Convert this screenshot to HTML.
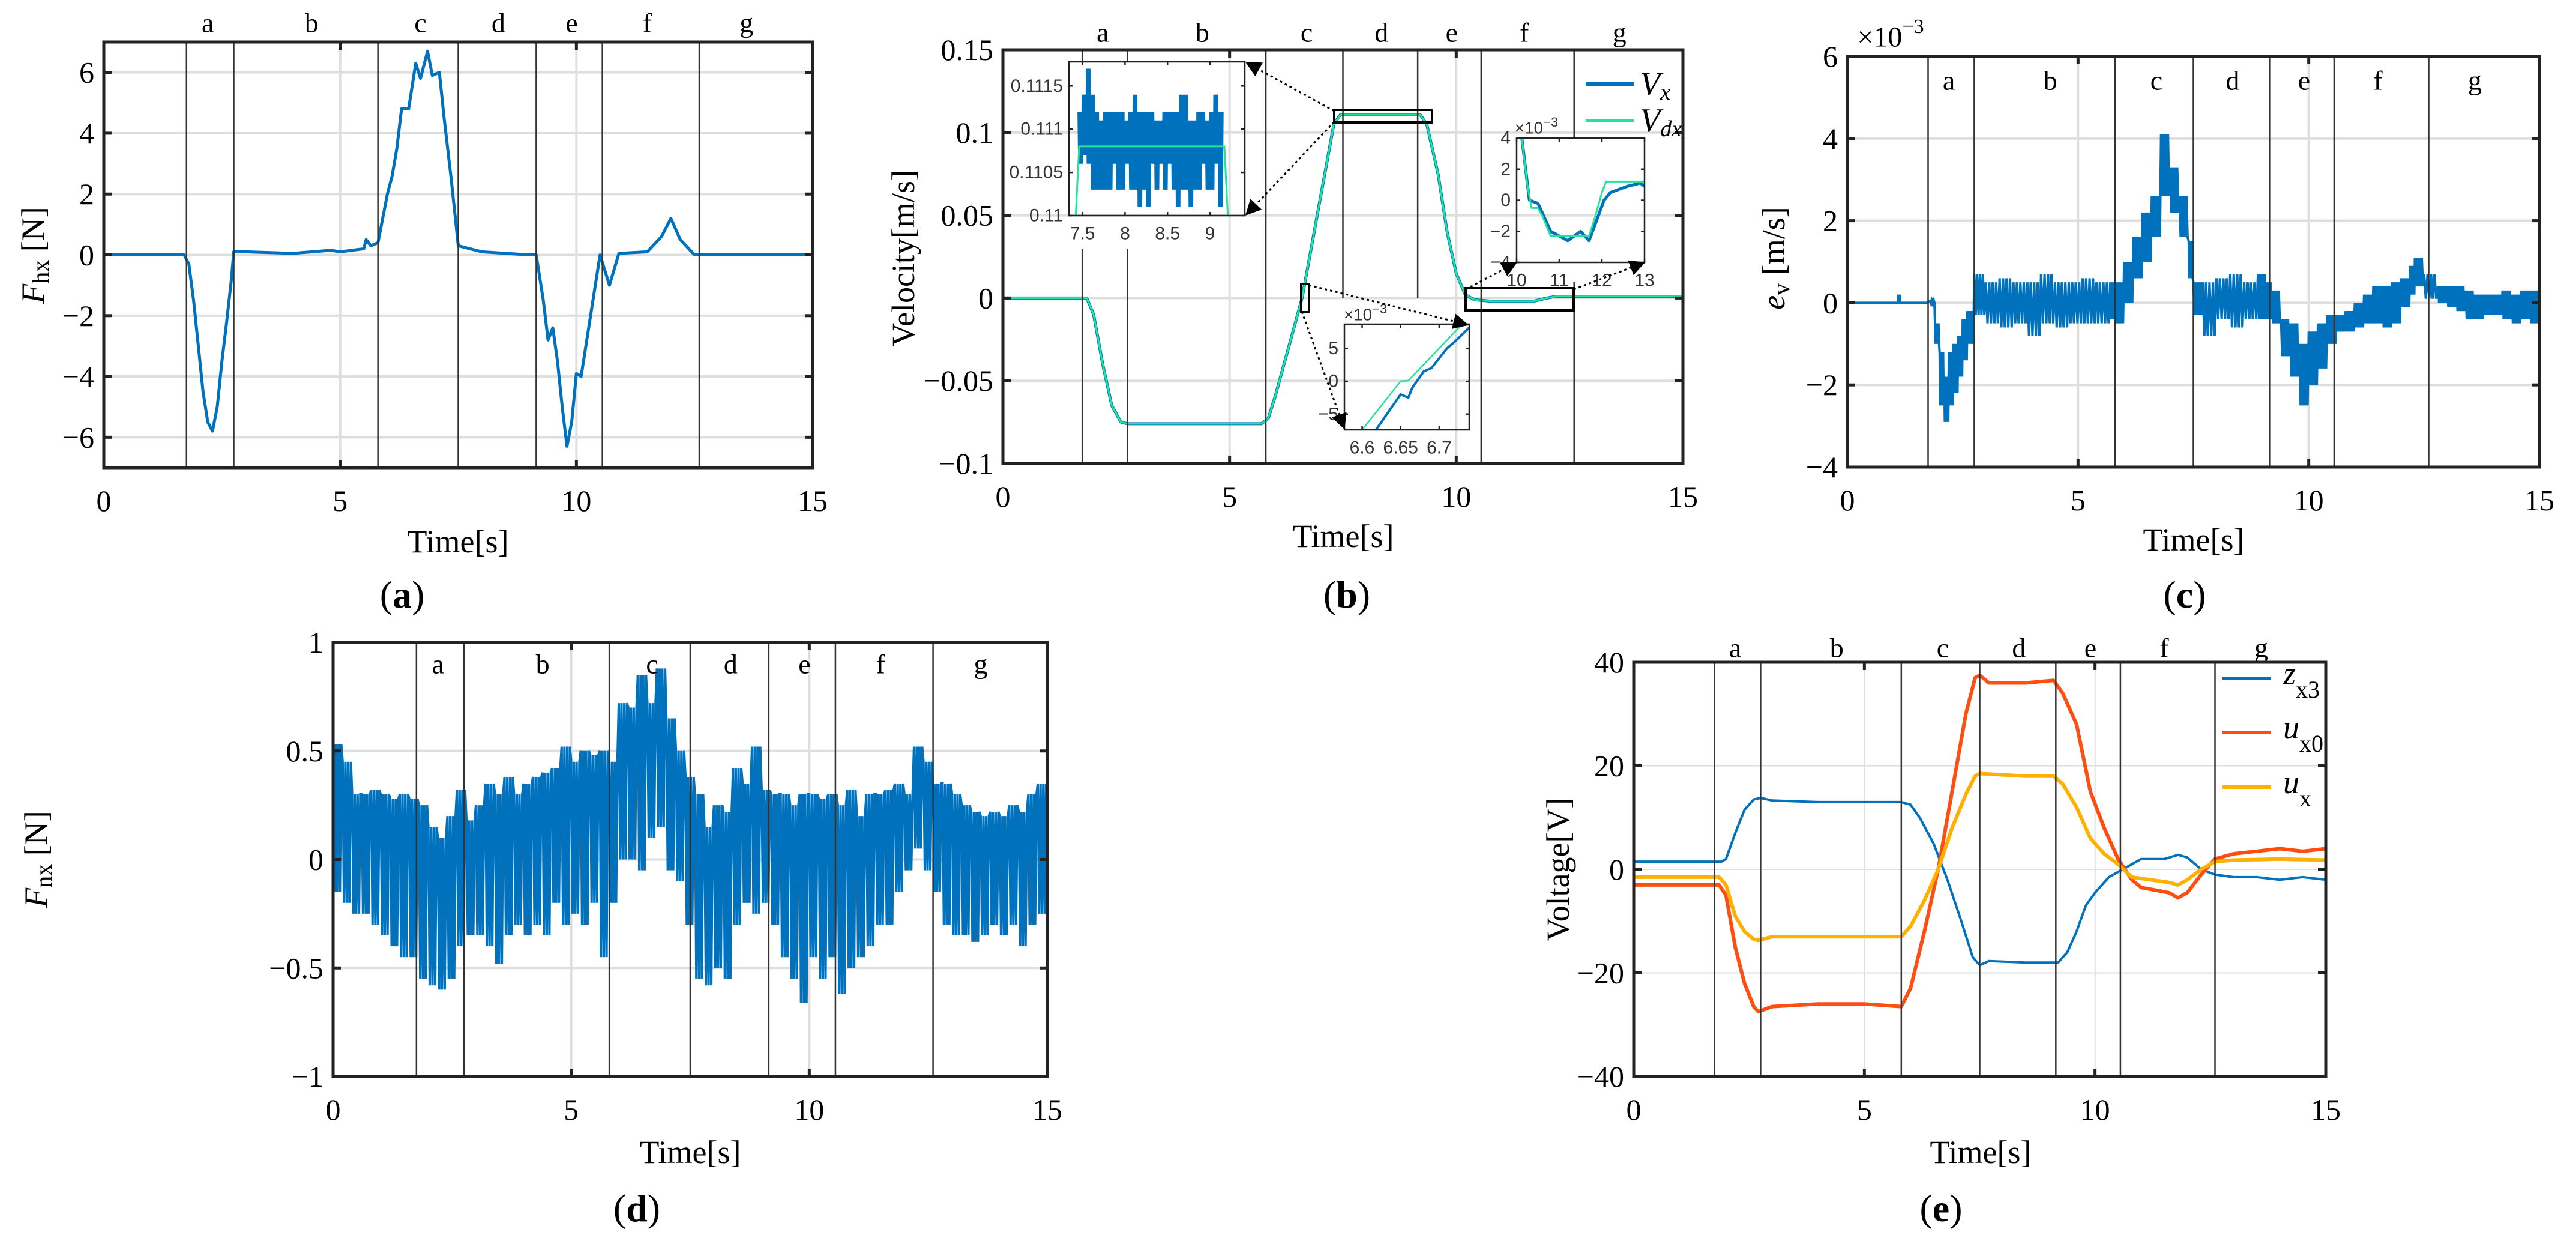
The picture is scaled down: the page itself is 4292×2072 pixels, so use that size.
<!DOCTYPE html>
<html><head><meta charset="utf-8"><style>
html,body{margin:0;padding:0;background:#fff;}
svg{display:block;}
text{font-family:"Liberation Serif",serif;fill:#000;}
.sans{font-family:"Liberation Sans",sans-serif;fill:#333;}
</style></head>
<body>
<svg id="fig" xmlns="http://www.w3.org/2000/svg" width="4292" height="2072" viewBox="0 0 4292 2072">
<defs>
<marker id="arr" markerWidth="10" markerHeight="10" refX="9" refY="5" orient="auto" markerUnits="userSpaceOnUse" viewBox="0 0 10 10" style="overflow:visible"><path d="M0,0 L10,5 L0,10 z" transform="scale(2.6) translate(-6,-3)" fill="#000"/></marker>
</defs>
</svg>
<script>
// ---------------- DATA ----------------
const phaseT = [1.75, 2.75, 5.8, 7.5, 9.15, 10.55, 12.6];
const phaseNames = ['a','b','c','d','e','f','g'];
const phaseLabelT = [2.2, 4.4, 6.7, 8.35, 9.9, 11.5, 13.6];

// (a) F_hx
const fhxT = [0,1.7,1.8,1.9,2.0,2.1,2.2,2.3,2.4,2.5,2.6,2.7,2.75,3,4,4.8,5,5.5,5.55,5.65,5.8,6.0,6.1,6.2,6.3,6.45,6.6,6.7,6.85,6.95,7.1,7.2,7.35,7.5,8,9.0,9.15,9.3,9.4,9.5,9.6,9.7,9.8,9.9,10.0,10.1,10.2,10.35,10.5,10.7,10.9,11.5,11.8,12.0,12.2,12.5,15];
const fhxV = [0,0,-0.3,-1.5,-3,-4.5,-5.5,-5.8,-5,-3.5,-2.2,-0.8,0.1,0.1,0.05,0.15,0.1,0.2,0.5,0.3,0.4,2,2.6,3.5,4.8,4.8,6.3,5.8,6.7,5.9,6,4.5,2.5,0.3,0.1,0.0,0,-1.5,-2.8,-2.4,-3.5,-5,-6.3,-5.5,-3.9,-4,-3,-1.5,0,-1,0.05,0.1,0.6,1.2,0.5,0,0];

// (b) velocity
const velT = [0,1.85,2.0,2.2,2.4,2.6,2.75,5.7,5.85,6.0,6.3,6.6,7.0,7.3,7.45,9.2,9.35,9.6,9.8,10.0,10.2,10.4,10.8,11.7,12.0,12.2,15];
const velVx = [0,0,-0.01,-0.04,-0.065,-0.075,-0.076,-0.076,-0.073,-0.06,-0.03,0,0.06,0.105,0.111,0.111,0.105,0.075,0.04,0.015,0.002,-0.001,-0.002,-0.002,0,0.001,0.001];
const velVdx = [0,0,-0.01,-0.04,-0.065,-0.075,-0.076,-0.076,-0.073,-0.06,-0.03,0,0.06,0.105,0.1108,0.1108,0.105,0.075,0.04,0.015,0.002,-0.001,-0.002,-0.002,0,0.001,0.001];
// inset 1
const in1T = [7.45,7.5,7.55,7.6,7.65,7.7,7.75,7.8,7.85,7.9,7.95,8.0,8.05,8.1,8.15,8.2,8.25,8.3,8.35,8.4,8.45,8.5,8.55,8.6,8.65,8.7,8.75,8.8,8.85,8.9,8.95,9.0,9.05,9.1,9.15];
const in1Up = [0.1112,0.1114,0.1117,0.1114,0.1112,0.1111,0.1112,0.1112,0.1112,0.1112,0.1112,0.1111,0.1112,0.1114,0.1112,0.1112,0.1112,0.1112,0.1111,0.1111,0.1112,0.1112,0.1112,0.1112,0.1114,0.1114,0.1111,0.1111,0.1112,0.1112,0.1111,0.1112,0.1114,0.1112,0.1112];
const in1Lo = [0.1106,0.1107,0.1106,0.1103,0.1103,0.1103,0.1103,0.1103,0.1106,0.1103,0.1103,0.1106,0.1103,0.1103,0.1101,0.1103,0.1101,0.1106,0.1103,0.1106,0.1103,0.1106,0.1103,0.1101,0.1103,0.1103,0.1101,0.1103,0.1103,0.1106,0.1103,0.1103,0.1106,0.1101,0.1103];
const in1DT = [7.42,7.46,9.17,9.21];
const in1DV = [0.1100,0.1108,0.1108,0.1100];
// inset 2 (x1e-3)
const in2T = [10.1,10.3,10.5,10.6,10.8,11.0,11.2,11.5,11.7,11.85,12.05,12.2,12.4,12.6,12.9,13.0];
const in2Vx = [4.5,0,-0.2,-0.8,-2,-2.3,-2.6,-2,-2.6,-1.5,0,0.5,0.7,0.9,1.1,0.9];
const in2DT = [10.1,10.25,10.35,10.5,10.6,10.8,11.7,11.85,12.0,12.1,13.0];
const in2DV = [4.5,1,-0.5,-0.5,-1,-2.3,-2.3,-1,0.5,1.2,1.2];
// inset 3 (x1e-3)
const in3T = [6.618,6.65,6.66,6.665,6.68,6.69,6.71,6.72,6.74];
const in3Vx = [-7.4,-2,-2.5,-1,1.5,2,5,6,8.3];
const in3DT = [6.6,6.65,6.66,6.73];
const in3DV = [-7.4,0,0.1,8.7];

// (c) e_v (x1e-3) envelope
const evT  = [0,1.05,1.1,1.15,1.8,1.9,2.0,2.1,2.2,2.3,2.4,2.5,2.6,2.75,3.0,3.3,3.6,3.9,4.2,4.5,4.8,5.1,5.4,5.7,5.8,6.0,6.2,6.4,6.6,6.8,7.0,7.2,7.4,7.5,7.7,8.0,8.3,8.6,8.9,9.1,9.2,9.4,9.6,9.8,10.0,10.2,10.4,10.6,10.8,11.0,11.2,11.4,11.6,11.8,12.0,12.2,12.3,12.5,12.8,13.0,13.2,13.4,13.6,13.8,14.0,14.2,14.4,14.6,14.8,15.0];
const evUp = [0,0,0.2,0,0.05,-0.5,-1.2,-1.8,-1.2,-1.0,-0.8,-0.4,-0.2,0.7,0.5,0.6,0.5,0.5,0.7,0.5,0.5,0.6,0.5,0.5,0.5,1.0,1.6,2.2,2.6,4.1,3.3,2.6,1.5,0.5,0.5,0.6,0.7,0.5,0.7,0.5,0.3,-0.4,-0.5,-1.0,-0.7,-0.5,-0.3,-0.3,-0.2,0.0,0.2,0.4,0.4,0.5,0.6,0.9,1.1,0.7,0.4,0.4,0.4,0.3,0.2,0.2,0.2,0.3,0.2,0.3,0.3,0.4];
const evLo = [0,0,0,0,0,-1.0,-2.5,-2.9,-2.5,-2.2,-1.8,-1.4,-1.0,-0.3,-0.5,-0.6,-0.5,-0.8,-0.5,-0.6,-0.5,-0.5,-0.5,-0.4,-0.5,0.0,0.6,1.0,1.6,2.6,2.2,1.6,0.6,-0.3,-0.8,-0.4,-0.6,-0.4,-0.4,-0.4,-0.5,-1.3,-1.8,-2.5,-2.0,-1.6,-1.0,-0.7,-0.7,-0.6,-0.5,-0.5,-0.6,-0.5,-0.1,0.2,0.4,0.1,0.0,-0.1,-0.2,-0.4,-0.4,-0.3,-0.3,-0.4,-0.5,-0.4,-0.5,-0.2];

// (d) F_nx envelope
const fnxT = [0,0.2,0.4,0.6,0.8,1.0,1.2,1.4,1.6,1.8,2.0,2.2,2.4,2.6,2.8,3.0,3.2,3.4,3.6,3.8,4.0,4.2,4.4,4.6,4.8,5.0,5.2,5.4,5.6,5.8,6.0,6.2,6.4,6.6,6.8,7.0,7.2,7.4,7.6,7.8,8.0,8.2,8.4,8.6,8.8,9.0,9.2,9.4,9.6,9.8,10.0,10.2,10.4,10.6,10.8,11.0,11.2,11.4,11.6,11.8,12.0,12.2,12.4,12.6,12.8,13.0,13.2,13.4,13.6,13.8,14.0,14.2,14.4,14.6,14.8,15.0];
const fnxUp = [0.53,0.45,0.3,0.3,0.32,0.3,0.28,0.3,0.28,0.25,0.15,0.1,0.2,0.32,0.18,0.25,0.35,0.3,0.38,0.3,0.35,0.38,0.4,0.42,0.52,0.45,0.5,0.48,0.5,0.45,0.72,0.7,0.85,0.72,0.88,0.65,0.5,0.38,0.3,0.15,0.25,0.22,0.42,0.35,0.52,0.32,0.3,0.3,0.25,0.3,0.3,0.28,0.3,0.25,0.32,0.2,0.3,0.3,0.32,0.35,0.3,0.52,0.45,0.35,0.35,0.3,0.25,0.22,0.2,0.22,0.2,0.25,0.22,0.3,0.35,0.1];
const fnxLo = [-0.15,-0.2,-0.25,-0.25,-0.3,-0.35,-0.4,-0.45,-0.45,-0.55,-0.58,-0.6,-0.55,-0.4,-0.35,-0.35,-0.4,-0.48,-0.35,-0.3,-0.35,-0.3,-0.35,-0.2,-0.3,-0.25,-0.3,-0.2,-0.45,-0.2,0.0,0.0,-0.05,0.1,0.15,-0.05,-0.1,-0.3,-0.55,-0.58,-0.5,-0.55,-0.3,-0.2,-0.25,-0.2,-0.3,-0.45,-0.55,-0.66,-0.45,-0.55,-0.45,-0.62,-0.5,-0.45,-0.4,-0.3,-0.3,-0.15,-0.05,0.05,-0.05,-0.15,-0.3,-0.35,-0.35,-0.38,-0.35,-0.3,-0.35,-0.3,-0.4,-0.3,-0.25,-0.05];

// (e) voltages
const zT = [0,1.9,2.0,2.2,2.4,2.6,2.75,3,4,5,5.8,6.0,6.2,6.5,6.8,7.1,7.35,7.5,7.7,8.5,9.0,9.2,9.4,9.6,9.8,10.0,10.3,10.5,10.8,11.0,11.5,11.8,12.0,12.3,12.6,13,13.5,14,14.5,15];
const zV = [1.5,1.5,2,7,11.5,13.5,13.8,13.3,13,13,13,12.5,10,5,-2,-10,-17,-18.5,-17.7,-18,-18,-18,-16,-12,-7,-4.5,-1.5,-0.5,1,2,2,2.8,2.3,0,-1,-1.5,-1.5,-2,-1.5,-2];
const u0T = [0,1.85,2.0,2.2,2.4,2.6,2.7,3,4,5,5.8,6.0,6.3,6.6,6.9,7.2,7.4,7.5,7.7,8.5,9.1,9.3,9.6,9.9,10.2,10.5,10.8,11.0,11.3,11.6,11.8,12.0,12.3,12.6,13,13.5,14,14.5,15];
const u0V = [-3,-3,-5,-15,-22,-26.5,-27.5,-26.5,-26,-26,-26.5,-23,-12,0,15,30,37,37.5,36,36,36.5,34,28,15,8,2,-2,-3.5,-4,-4.5,-5.5,-4.5,-1,2,3,3.5,4,3.5,4];
const uxT = [0,1.85,2.0,2.2,2.4,2.6,2.7,3,5.8,6.0,6.3,6.6,6.9,7.2,7.4,7.5,8.5,9.1,9.3,9.6,9.9,10.2,10.5,10.8,11.2,11.6,11.8,12.0,12.3,12.6,13,14,15];
const uxV = [-1.5,-1.5,-3,-9,-12,-13.5,-13.7,-13,-13,-11,-6,0,8,14.5,18,18.5,18,18,16.5,12,6,3,1,-1.5,-2,-2.5,-3,-2,0,1.5,1.8,2,1.8];

// ---------------- DRAWING ----------------
const NS = 'http://www.w3.org/2000/svg';
const svg = document.getElementById('fig');
let clipN = 0;
function mk(tag, attrs, parent){const e=document.createElementNS(NS,tag);for(const k in attrs)e.setAttribute(k,attrs[k]);(parent||svg).appendChild(e);return e;}
function lin(d0,d1,r0,r1){return v=>r0+(v-d0)*(r1-r0)/(d1-d0);}
function fmt(v){return (v<0?'\u2212':'')+String(Math.abs(v));}

function makeAxes(c){
  const g = mk('g',{});
  
  
  const sx = lin(c.xmin,c.xmax,c.x0,c.x1), sy = lin(c.ymin,c.ymax,c.y1,c.y0);
  const id = 'clip'+(clipN++);
  const cp = mk('clipPath',{id:id},g);
  mk('rect',{x:c.x0,y:c.y0,width:c.x1-c.x0,height:c.y1-c.y0},cp);
  if(c.grid){
    c.xt.forEach(v=>{const l=mk('line',{x1:sx(v),x2:sx(v),y1:c.y0,y2:c.y1,stroke:'#dedede','stroke-width':c.gw||4},g);
      
      });
    c.yt.forEach(v=>{const l=mk('line',{x1:c.x0,x2:c.x1,y1:sy(v),y2:sy(v),stroke:'#dedede','stroke-width':c.gw||4},g);
      
      });
  }
  const dg = mk('g',{'clip-path':'url(#'+id+')'},g);
  return {c,g,dg,sx,sy};
}
function finishAxes(A){
  const c=A.c,g=A.g,sx=A.sx,sy=A.sy;
  const fw=c.fw||5, tl=c.tl||13;
  const fr = mk('rect',{x:c.x0,y:c.y0,width:c.x1-c.x0,height:c.y1-c.y0,fill:'none',stroke:c.fc||'#222','stroke-width':fw},g);
  
  
  c.xt.forEach(v=>{
    mk('line',{x1:sx(v),x2:sx(v),y1:c.y1,y2:c.y1-tl,stroke:'#222','stroke-width':fw},g);
    mk('line',{x1:sx(v),x2:sx(v),y1:c.y0,y2:c.y0+tl,stroke:'#222','stroke-width':fw},g);
    const t=mk('text',{x:sx(v),y:c.y1+(c.xly||55),'text-anchor':'middle','dominant-baseline':'central','font-size':c.fs||50},g);
    
    
    if(c.sans)t.setAttribute('class','sans');
    t.textContent=(c.xfmt||fmt)(v);
  });
  c.yt.forEach(v=>{
    mk('line',{x1:c.x0,x2:c.x0+tl,y1:sy(v),y2:sy(v),stroke:'#222','stroke-width':fw},g);
    mk('line',{x1:c.x1,x2:c.x1-tl,y1:sy(v),y2:sy(v),stroke:'#222','stroke-width':fw},g);
    const t=mk('text',{x:c.x0-(c.ylx||16),y:sy(v),'text-anchor':'end','dominant-baseline':'central','font-size':c.fs||50},g);
    
    
    if(c.sans)t.setAttribute('class','sans');
    t.textContent=(c.yfmt||fmt)(v);
  });
}
function pathD(A,xs,ys,k){let d='';const n=Math.min(xs.length,ys.length);for(let i=0;i<n;i++){d+=(i?'L':'M')+A.sx(xs[i]).toFixed(1)+','+A.sy(ys[i]*(k||1)).toFixed(1);}return d;}
function line(A,xs,ys,color,w,name,parent){
  const p=mk('path',{d:pathD(A,xs,ys),fill:'none',stroke:color,'stroke-width':w,'stroke-linejoin':'round'},parent||A.dg);
  
  
  return p;
}
function band(A,ts,up,lo,color,w,name,sub){
  const n=Math.min(ts.length,up.length,lo.length);let d='';
  for(let i=0;i<n;i++){
    const t0=ts[i], t1=(i<n-1)?ts[i+1]:ts[i];
    for(let k=0;k<sub;k++){
      const tt=t0+(t1-t0)*k/sub;
      const v=(k%2===0)?up[i]:lo[i];
      d+=(d?'L':'M')+A.sx(tt).toFixed(1)+','+A.sy(v).toFixed(1);
      if(t1===t0)break;
    }
  }
  const p=mk('path',{d:d,fill:'none',stroke:color,'stroke-width':w,'stroke-linejoin':'miter'},A.dg);
  
  
}
function phases(A,labY,segs){
  phaseT.forEach((t,i)=>{
    const ranges = segs&&segs[i] ? segs[i] : [[A.c.y0,A.c.y1]];
    ranges.forEach(r=>{
      const l=mk('line',{x1:A.sx(t),x2:A.sx(t),y1:r[0],y2:r[1],stroke:'#333','stroke-width':2.5},A.g);
      
      
    });
  });
  phaseLabelT.forEach((t,i)=>{
    const tx=mk('text',{x:A.sx(t),y:labY,'text-anchor':'middle','dominant-baseline':'central','font-size':46},A.g);
    
    
    tx.textContent=phaseNames[i];
  });
}
function txt(x,y,s,size,name,extra){
  const t=mk('text',Object.assign({x:x,y:y,'text-anchor':'middle','dominant-baseline':'central','font-size':size},extra||{}));
  
  
  t.innerHTML=s;return t;
}
function ylab(x,y,s,name,size){
  const t=mk('text',{x:0,y:0,'text-anchor':'middle','dominant-baseline':'central','font-size':size||54,transform:'translate('+x+','+y+') rotate(-90)'});
  
  
  t.innerHTML=s;return t;
}
function panelLabel(x,y,ch,name){
  const t=mk('text',{x:x,y:y,'text-anchor':'middle','dominant-baseline':'central','font-size':64});
  
  
  t.innerHTML='(<tspan font-weight="bold">'+ch+'</tspan>)';
}
const BLUE='#0072BD', GREEN='#22E39A', ORANGE='#FF4E12', YELLOW='#FFB000';
const X15=[0,5,10,15];

// ----- Panel (a)
const A = makeAxes({name:'panel-a-fhx',x0:173,x1:1354,y0:70,y1:779,xmin:0,xmax:15,ymin:-7,ymax:7,xt:X15,yt:[-6,-4,-2,0,2,4,6],grid:true});
line(A,fhxT,fhxV,BLUE,5,'fhx-line');
phases(A,38);
finishAxes(A);
ylab(55,425,'<tspan font-style="italic">F</tspan><tspan font-size="40" dy="12">hx</tspan><tspan dy="-12"> [N]</tspan>','y-axis-title-a');
txt(763,902,'Time[s]',54,'x-axis-title-a');
panelLabel(670,990,'a','panel-label-a');

// ----- Panel (b)
const B = makeAxes({name:'panel-b-velocity',x0:1671,x1:2804,y0:83,y1:772,xmin:0,xmax:15,ymin:-0.1,ymax:0.15,xt:X15,yt:[-0.1,-0.05,0,0.05,0.1,0.15],grid:true});
line(B,velT,velVx,BLUE,5,'vx-line');
line(B,velT,velVdx,GREEN,3,'vdx-line');
phases(B,54,[[[83,103],[415,772]],[[83,103],[415,772]],null,[[83,497]],[[83,497]],null,[[83,228],[470,772]]]);
finishAxes(B);
ylab(1505,430,'Velocity[m/s]','y-axis-title-b');
txt(2238,893,'Time[s]',54,'x-axis-title-b');
panelLabel(2244,990,'b','panel-label-b');
[[2223,183,163,21,'zoom-box-plateau'],[2442,480,180,37,'zoom-box-settle'],[2168,473,13,47,'zoom-box-crossing']].forEach(b=>{
  const r=mk('rect',{x:b[0],y:b[1],width:b[2],height:b[3],fill:'none',stroke:'#000','stroke-width':4});
  
  
});
const I1 = makeAxes({name:'inset-plateau',x0:1781,x1:2074,y0:103,y1:359,xmin:7.34,xmax:9.41,ymin:0.11,ymax:0.11178,xt:[7.5,8,8.5,9],yt:[0.11,0.1105,0.111,0.1115],grid:false,fw:2.5,tl:6,fs:30,sans:true,xly:30,ylx:10,fc:'#222'});
band(I1,in1T,in1Up,in1Lo,BLUE,3,'inset-plateau-vx',6);
line(I1,in1DT,in1DV,GREEN,3,'inset-plateau-vdx');
finishAxes(I1);
const I2 = makeAxes({name:'inset-settle',x0:2527,x1:2740,y0:230,y1:437,xmin:10,xmax:13,ymin:-4,ymax:4,xt:[10,11,12,13],yt:[-4,-2,0,2,4],grid:false,fw:2.5,tl:6,fs:30,sans:true,xly:30,ylx:10});
line(I2,in2T,in2Vx,BLUE,5,'inset-settle-vx');
line(I2,in2DT,in2DV,GREEN,3,'inset-settle-vdx');
finishAxes(I2);
txt(2560,213,'×10<tspan font-size="22" dy="-10">−3</tspan>',28,'inset-settle-exponent',{class:'sans'});
const I3 = makeAxes({name:'inset-crossing',x0:2240,x1:2448,y0:540,y1:716,xmin:6.577,xmax:6.739,ymin:-7.4,ymax:8.7,xt:[6.6,6.65,6.7],yt:[-5,0,5],grid:false,fw:2.5,tl:6,fs:30,sans:true,xly:30,ylx:10});
line(I3,in3T,in3Vx,BLUE,4,'inset-crossing-vx');
line(I3,in3DT,in3DV,GREEN,2.5,'inset-crossing-vdx');
finishAxes(I3);
txt(2275,524,'×10<tspan font-size="22" dy="-10">−3</tspan>',28,'inset-crossing-exponent',{class:'sans'});
[[2223,185,2076,104],[2223,203,2076,358],[2181,475,2446,541],[2169,519,2240,714],[2442,482,2527,437],[2622,482,2740,437]].forEach((a,i)=>{
  const l=mk('line',{x1:a[0],y1:a[1],x2:a[2],y2:a[3],stroke:'#000','stroke-width':3,'stroke-dasharray':'4 5','marker-end':'url(#arr)'});
  
  
});
const lgB = mk('g',{});


mk('line',{x1:2642,x2:2722,y1:140,y2:140,stroke:BLUE,'stroke-width':6},lgB);
mk('line',{x1:2642,x2:2722,y1:201,y2:201,stroke:GREEN,'stroke-width':4},lgB);
const lt1=mk('text',{x:2732,y:140,'dominant-baseline':'central','font-size':56,'font-style':'italic'},lgB);


lt1.innerHTML='V<tspan font-size="38" dy="14">x</tspan>';
const lt2=mk('text',{x:2732,y:201,'dominant-baseline':'central','font-size':56,'font-style':'italic'},lgB);


lt2.innerHTML='V<tspan font-size="38" dy="14">dx</tspan>';

// ----- Panel (c)
const C = makeAxes({name:'panel-c-ev',x0:3078,x1:4231,y0:94,y1:778,xmin:0,xmax:15,ymin:-4,ymax:6,xt:X15,yt:[-4,-2,0,2,4,6],grid:true});
band(C,evT,evUp,evLo,BLUE,4,'ev-line',8);
phases(C,134);
finishAxes(C);
txt(3150,62,'×10<tspan font-size="34" dy="-18">−3</tspan>',48,'c-exponent-label');
ylab(2955,430,'<tspan font-style="italic">e</tspan><tspan font-size="40" dy="12">v</tspan><tspan dy="-12"> [m/s]</tspan>','y-axis-title-c');
txt(3655,899,'Time[s]',54,'x-axis-title-c');
panelLabel(3640,990,'c','panel-label-c');

// ----- Panel (d)
const D = makeAxes({name:'panel-d-fnx',x0:555,x1:1745,y0:1070,y1:1793,xmin:0,xmax:15,ymin:-1,ymax:1,xt:X15,yt:[-1,-0.5,0,0.5,1],grid:true});
band(D,fnxT,fnxUp,fnxLo,BLUE,4,'fnx-line',7);
phases(D,1106);
finishAxes(D);
ylab(60,1431,'<tspan font-style="italic">F</tspan><tspan font-size="40" dy="12">nx</tspan><tspan dy="-12"> [N]</tspan>','y-axis-title-d');
txt(1150,1919,'Time[s]',54,'x-axis-title-d');
panelLabel(1061,2012,'d','panel-label-d');

// ----- Panel (e)
const E = makeAxes({name:'panel-e-voltage',x0:2722,x1:3875,y0:1103,y1:1793,xmin:0,xmax:15,ymin:-40,ymax:40,xt:X15,yt:[-40,-20,0,20,40],grid:true,gw:2});
line(E,zT,zV,BLUE,4,'zx3-line');
line(E,u0T,u0V,ORANGE,6,'ux0-line');
line(E,uxT,uxV,YELLOW,6,'ux-line');
phases(E,1079);
finishAxes(E);
ylab(2596,1448,'Voltage[V]','y-axis-title-e');
txt(3300,1919,'Time[s]',54,'x-axis-title-e');
panelLabel(3234,2012,'e','panel-label-e');
const lgE = mk('g',{});


[[1130,BLUE,'z','x3','legend-entry-zx3'],[1220,ORANGE,'u','x0','legend-entry-ux0'],[1311,YELLOW,'u','x','legend-entry-ux']].forEach(e=>{
  mk('line',{x1:3703,x2:3784,y1:e[0],y2:e[0],stroke:e[1],'stroke-width':6},lgE);
  const t=mk('text',{x:3804,y:e[0]-8,'dominant-baseline':'central','font-size':54},lgE);
  
  
  t.innerHTML='<tspan font-style="italic">'+e[2]+'</tspan><tspan font-size="40" dy="26">'+e[3]+'</tspan>';
});
</script>
</body></html>
